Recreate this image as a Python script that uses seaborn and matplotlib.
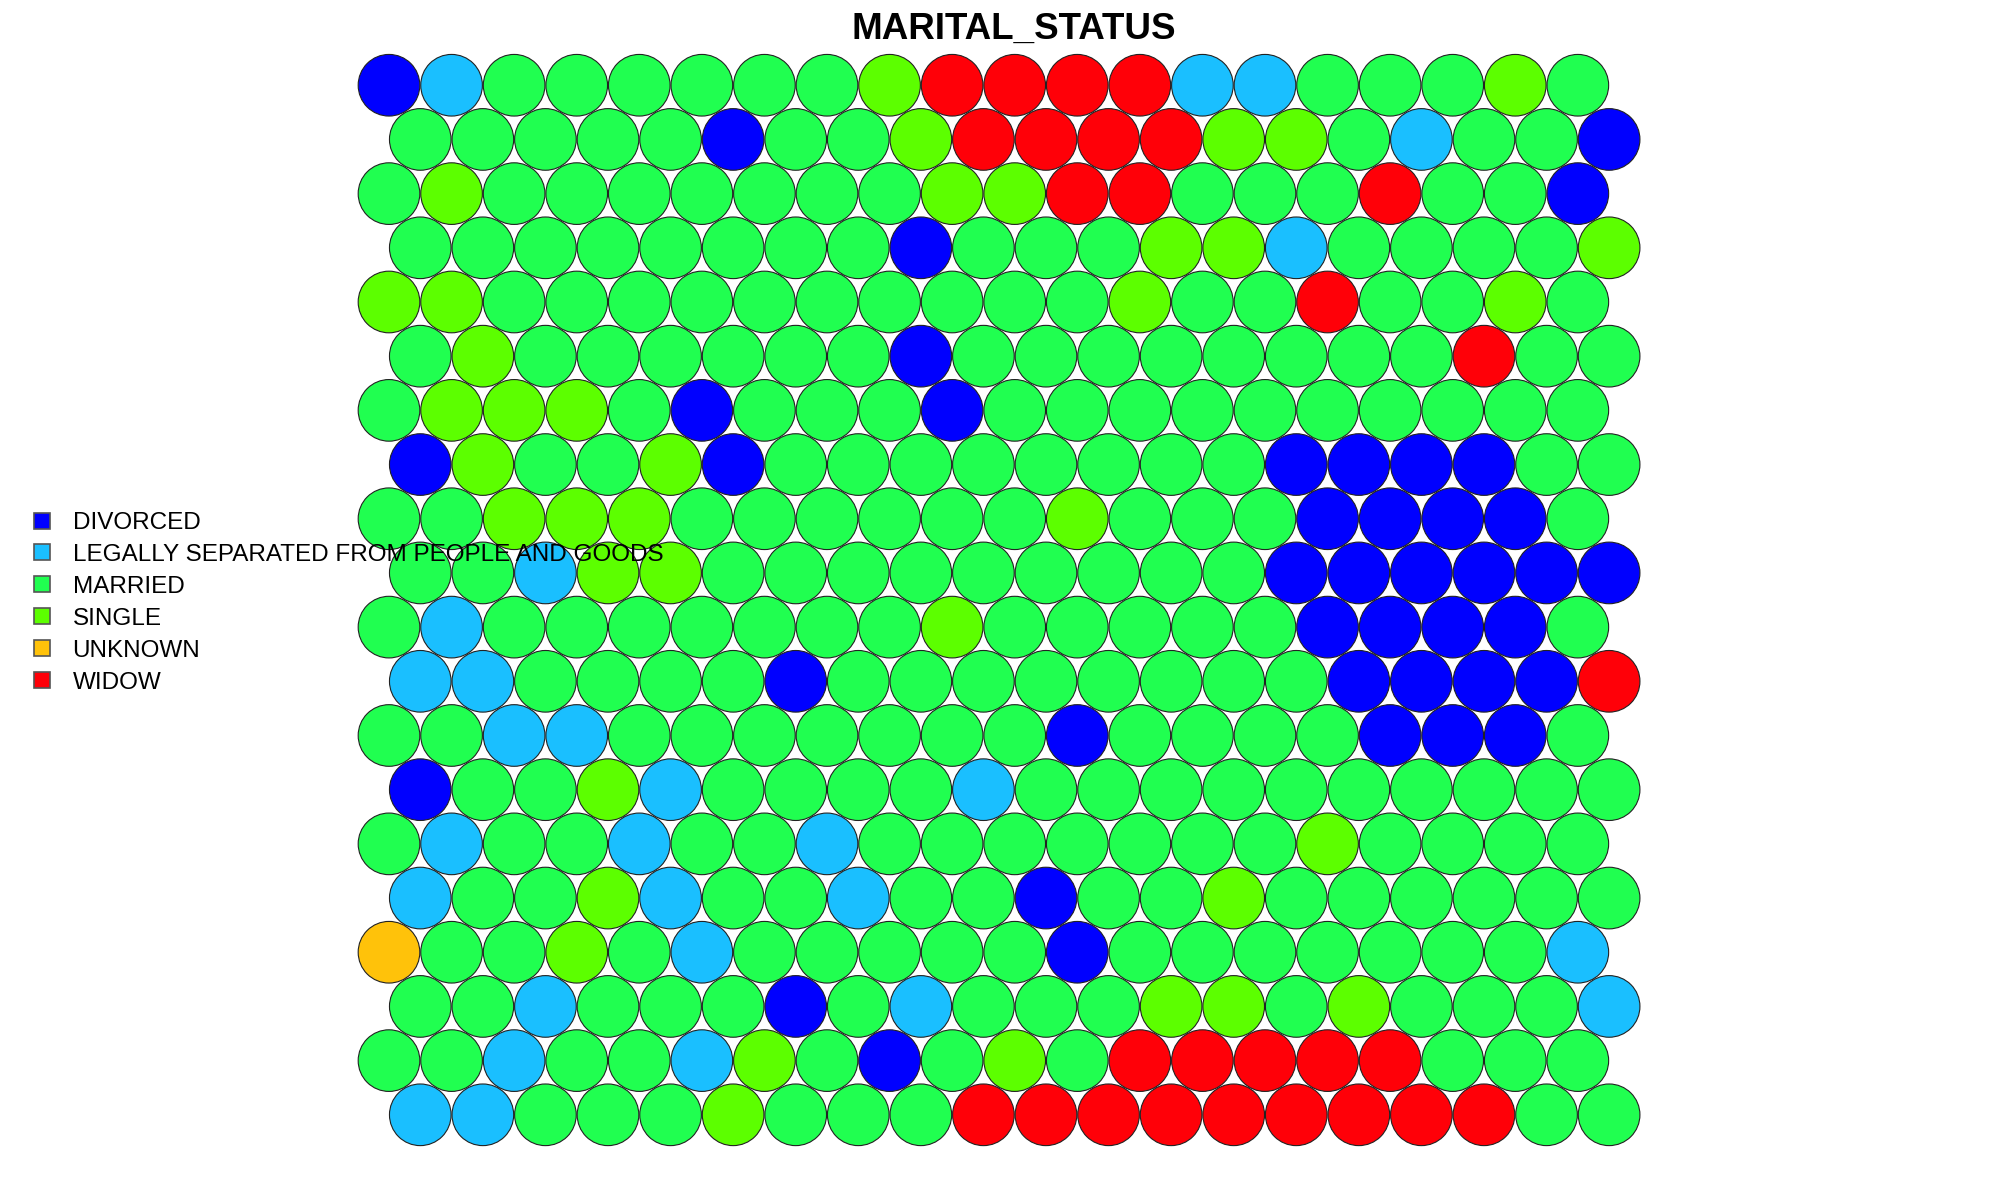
import matplotlib
matplotlib.use("Agg")
import matplotlib.pyplot as plt
from matplotlib.lines import Line2D
import numpy as np
import pandas as pd
import seaborn as sns

# SOM node classes, one string per grid row, read from the top row down
# D=DIVORCED L=LEGALLY SEPARATED M=MARRIED S=SINGLE U=UNKNOWN W=WIDOW
grid_rows = [
    "DLMMMMMMSWWWWLLMMMSM",
    "MMMMMDMMSWWWWSSMLMMD",
    "MSMMMMMMMSSWWMMMWMMD",
    "MMMMMMMMDMMMSSLMMMMS",
    "SSMMMMMMMMMMSMMWMMSM",
    "MSMMMMMMDMMMMMMMMWMM",
    "MSSSMDMMMDMMMMMMMMMM",
    "DSMMSDMMMMMMMMDDDDMM",
    "MMSSSMMMMMMSMMMDDDDM",
    "MMLSSMMMMMMMMMDDDDDD",
    "MLMMMMMMMSMMMMMDDDDM",
    "LLMMMMDMMMMMMMMDDDDW",
    "MMLLMMMMMMMDMMMMDDDM",
    "DMMSLMMMMLMMMMMMMMMM",
    "MLMMLMMLMMMMMMMSMMMM",
    "LMMSLMMLMMDMMSMMMMMM",
    "UMMSMLMMMMMDMMMMMMML",
    "MMLMMMDMLMMMSSMSMMML",
    "MMLMMLSMDMSMWWWWWMMM",
    "LLMMMSMMMWWWWWWWWWMM",
]

codes = ["D", "L", "M", "S", "U", "W"]
labels = ["DIVORCED", "LEGALLY SEPARATED FROM PEOPLE AND GOODS",
          "MARRIED", "SINGLE", "UNKNOWN", "WIDOW"]
colors = ["#0000FF", "#1ABFFF", "#20FF50", "#5CFF00", "#FFC20A", "#FF0008"]
title = "MARITAL_STATUS"

# hex layout: bottom row is shifted right by half a cell
recs = []
n_rows = len(grid_rows)
for i, row in enumerate(grid_rows):
    r = n_rows - 1 - i
    for c, code in enumerate(row):
        recs.append({
            "x": c + (0.5 if r % 2 == 0 else 0.0),
            "y": r * np.sqrt(3) / 2,
            "status": labels[codes.index(code)],
        })
df = pd.DataFrame(recs)

sns.set_style("white")
plt.rcParams["font.family"] = ["Liberation Sans", "DejaVu Sans"]
plt.rcParams["text.color"] = "black"

W, H, DPI = 20, 12, 100
fig = plt.figure(figsize=(W, H), dpi=DPI)
ax = fig.add_axes([0, 0, 1, 1])

unit = 62.57  # pixels per grid unit
x0, y0 = 389.0, 85.2  # pixel position of first node column / bottom row
ax.set_xlim(-x0 / unit, (W * DPI - x0) / unit)
ax.set_ylim(-y0 / unit, (H * DPI - y0) / unit)

diam_pt = unit * 72 / DPI * 0.985
sns.scatterplot(data=df, x="x", y="y", hue="status", hue_order=labels,
                palette=dict(zip(labels, colors)), s=diam_pt ** 2,
                edgecolor="#222222", linewidth=0.8, legend=False, ax=ax)
ax.set_axis_off()

fig.text(1014 / (W * DPI), 1 - 29.5 / (H * DPI), title, ha="center",
         va="center", fontsize=26.5, fontweight="bold", color="black")

handles = [Line2D([], [], marker="s", linestyle="none", markersize=12,
                  markerfacecolor=col, markeredgecolor="#555555",
                  markeredgewidth=1.2) for col in colors]
leg = fig.legend(handles, labels, loc="upper left",
                 bbox_to_anchor=(30 / (W * DPI), 1 - 512 / (H * DPI)),
                 frameon=False, fontsize=17.5, handlelength=1.0,
                 handletextpad=0.75, labelspacing=0.41, borderpad=0,
                 borderaxespad=0)
for t in leg.get_texts():
    t.set_color("black")

fig.savefig("out.png", dpi=DPI)
